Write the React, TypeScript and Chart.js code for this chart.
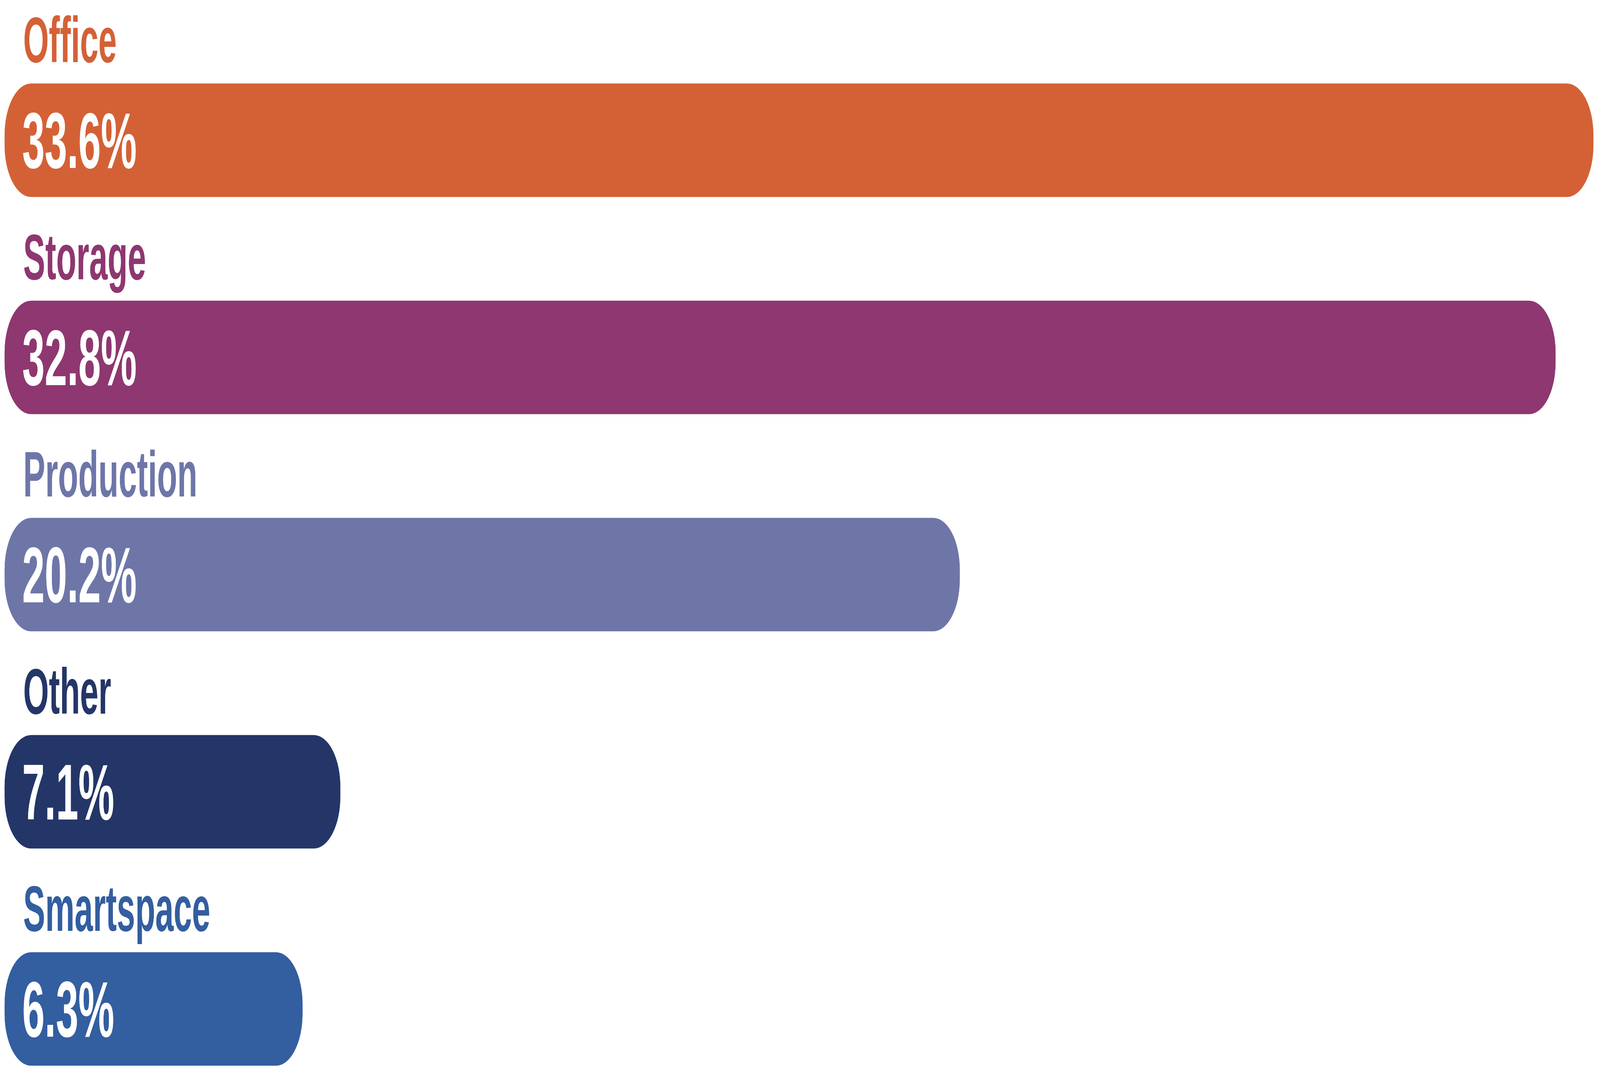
import React, { useEffect, useRef } from 'react';
import { Chart, registerables } from 'chart.js';

Chart.register(...registerables);

const categories = ['Office', 'Storage', 'Production', 'Other', 'Smartspace'];
const values = [33.6, 32.8, 20.2, 7.1, 6.3];
const valueLabels = ['33.6%', '32.8%', '20.2%', '7.1%', '6.3%'];
const colors = ['#D46136', '#8E3770', '#6E76A8', '#243668', '#335EA0'];

// The chart is laid out on an 8000 x 2770 drawing surface (the reference size)
// and the canvas element is stretched over the whole browser viewport.
const W = 8000;
const H = 2770;

const labelPlugin = {
  id: 'barLabels',
  afterDatasetsDraw(chart: any) {
    const ctx = chart.ctx as CanvasRenderingContext2D;
    const meta = chart.getDatasetMeta(0);
    meta.data.forEach((bar: any, i: number) => {
      const { base, y, height } = bar.getProps(['base', 'y', 'height'], true);
      ctx.save();
      ctx.textAlign = 'left';
      ctx.textBaseline = 'alphabetic';
      ctx.fillStyle = colors[i];
      ctx.font = 'bold 165px "Liberation Sans", Arial, sans-serif';
      ctx.fillText(categories[i], base + 93, y - height / 2 - 55);
      ctx.fillStyle = '#ffffff';
      ctx.font = 'bold 202px "Liberation Sans", Arial, sans-serif';
      ctx.fillText(valueLabels[i], base + 88, y + 71);
      ctx.restore();
    });
  },
};

export default function App() {
  const ref = useRef<HTMLCanvasElement | null>(null);

  useEffect(() => {
    if (!ref.current) return;
    const chart = new Chart(ref.current, {
      type: 'bar',
      data: {
        labels: categories,
        datasets: [
          {
            data: values,
            backgroundColor: colors,
            barThickness: 290,
            borderRadius: 133,
            borderSkipped: false,
            clip: false as any,
          } as any,
        ],
      },
      options: {
        indexAxis: 'y',
        animation: false,
        responsive: false,
        devicePixelRatio: 1,
        layout: { padding: { left: 23, right: 33, top: 359, bottom: 187 } },
        scales: {
          x: { type: 'linear', min: 0, max: 33.6, display: false },
          y: { type: 'category', offset: false, display: false },
        },
        plugins: {
          legend: { display: false },
          tooltip: { enabled: false },
        },
      },
      plugins: [labelPlugin],
    });
    return () => chart.destroy();
  }, []);

  return (
    <div style={{ position: 'fixed', left: 0, top: 0, width: '100vw', height: '100vh', background: '#ffffff' }}>
      <canvas
        ref={ref}
        width={W}
        height={H}
        style={{ display: 'block', width: '100vw', height: '100vh' }}
      />
    </div>
  );
}
